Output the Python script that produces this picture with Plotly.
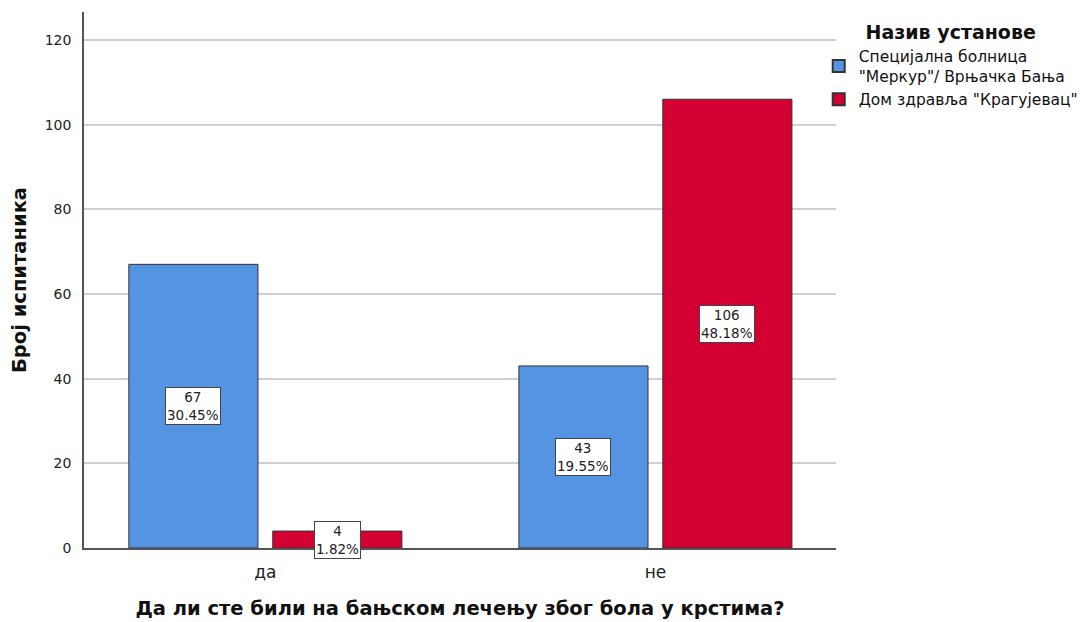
import plotly.graph_objects as go

categories = ["да", "не"]
series_names = ["Специјална болница<br>\"Меркур\"/ Врњачка Бања", "Дом здравља \"Крагујевац\""]
series_values = [[67, 43], [4, 106]]
series_pct = [["30.45%", "19.55%"], ["1.82%", "48.18%"]]
colors = ["#5594E2", "#D30031"]
y_ticks = [0, 20, 40, 60, 80, 100, 120]

bar_width = 0.331
offsets = [-0.35, 0.019]

font_main = "DejaVu Sans"
font_bold = "DejaVu Sans"

fig = go.Figure()
for i, name in enumerate(series_names):
    fig.add_trace(go.Bar(
        x=categories, y=series_values[i], name=name,
        width=bar_width, offset=offsets[i],
        marker=dict(color=colors[i], line=dict(color="#333333", width=1)),
    ))
    for j, cat in enumerate(categories):
        v = series_values[i][j]
        fig.add_annotation(
            x=j + offsets[i] + bar_width / 2, y=v / 2, xref="x", yref="y",
            text=f"{v}<br>{series_pct[i][j]}", showarrow=False,
            font=dict(family=font_main, size=13.5, color="#222222"),
            bgcolor="white", bordercolor="#444444", borderwidth=1, borderpad=1,
        )

fig.update_layout(
    width=1089, height=622,
    margin=dict(l=76, r=261, t=4, b=82, autoexpand=False),
    plot_bgcolor="white", paper_bgcolor="white",
    barmode="overlay",
    font=dict(family=font_main, color="#222222"),
    legend=dict(
        title=dict(text="<b>Назив установе</b>", font=dict(family=font_bold, size=19, color="#111111"), side="top center"),
        x=0.977, xanchor="left", y=0.995, yanchor="top",
        bgcolor="rgba(0,0,0,0)",
        font=dict(family=font_main, size=15.5, color="#111111"),
        itemsizing="constant", tracegroupgap=2,
    ),
    xaxis=dict(
        type="category", range=[-0.465, 1.463], automargin=False,
        showline=True, linecolor="#555555", linewidth=1.5,
        ticks="", tickfont=dict(size=17, color="#222222"), ticklabelstandoff=8,
        title=dict(text="<b>Да ли сте били на бањском лечењу због бола у крстима?</b>",
                   font=dict(family=font_bold, size=19.5, color="#111111"), standoff=20),
    ),
    yaxis=dict(
        range=[0, 126.6], tickvals=y_ticks, automargin=False,
        showgrid=True, gridcolor="#d0d0d0", gridwidth=1.5,
        showline=True, linecolor="#555555", linewidth=1.5,
        ticks="", tickfont=dict(size=14, color="#222222"), ticklabelstandoff=8,
        title=dict(text="<b>Број испитаника</b>",
                   font=dict(family=font_bold, size=19.5, color="#111111"), standoff=14),
        zeroline=False,
    ),
)

fig.write_html("out.html")
